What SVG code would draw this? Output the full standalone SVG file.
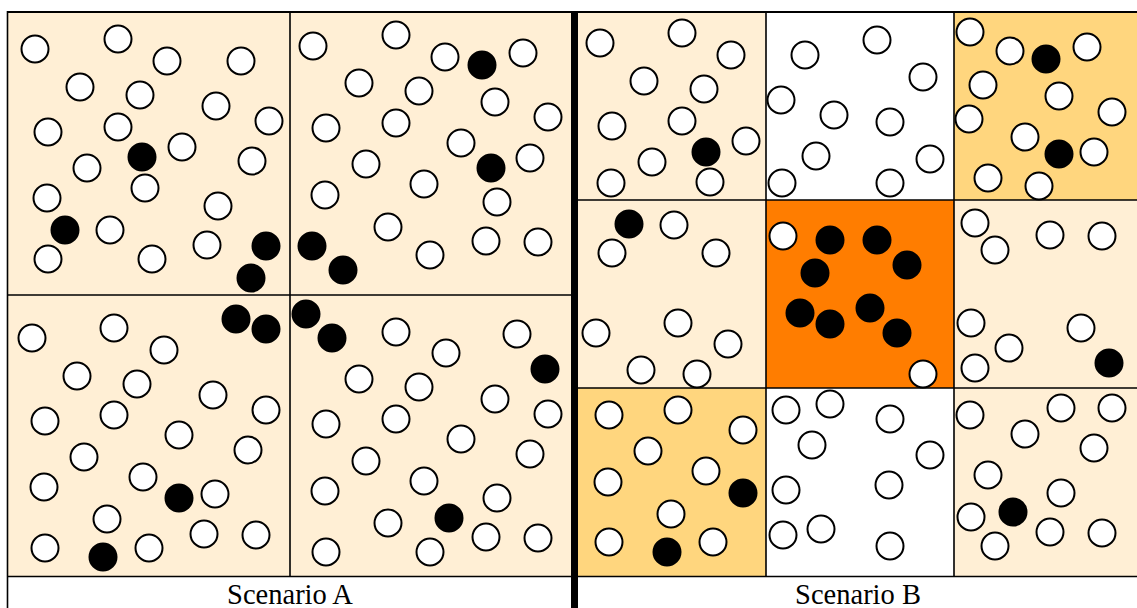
<svg xmlns="http://www.w3.org/2000/svg" width="1137" height="608" viewBox="0 0 1137 608">
<style>
.w{fill:#fff;stroke:#000;stroke-width:2}
.b{fill:#000;stroke:#000;stroke-width:2}
.c0{fill:#FFEFD5}
.c1{fill:#FFD67E}
.c2{fill:#FF7D00}
.c3{fill:#fff}
.ln{stroke:#000;stroke-width:1.6;fill:none}
.lbl{font-family:"Liberation Serif","Times New Roman",serif;font-size:28.5px;fill:#000;text-anchor:middle}
</style>
<rect x="0" y="0" width="1137" height="608" fill="#fff"/>
<g id="scenario-a">
<rect class="c0" x="8" y="12" width="564" height="564"/>
<g id="a-q1">
<circle class="w" cx="35" cy="49" r="13.5"/><circle class="w" cx="118" cy="39" r="13.5"/><circle class="w" cx="167" cy="61" r="13.5"/><circle class="w" cx="241" cy="61" r="13.5"/><circle class="w" cx="80" cy="87" r="13.5"/><circle class="w" cx="140" cy="95" r="13.5"/><circle class="w" cx="216" cy="106" r="13.5"/><circle class="w" cx="269" cy="121" r="13.5"/><circle class="w" cx="48" cy="132" r="13.5"/><circle class="w" cx="118" cy="127" r="13.5"/><circle class="w" cx="182" cy="147" r="13.5"/><circle class="w" cx="252" cy="161" r="13.5"/><circle class="w" cx="87" cy="168" r="13.5"/><circle class="w" cx="145" cy="188" r="13.5"/><circle class="w" cx="47" cy="198" r="13.5"/><circle class="w" cx="218" cy="206" r="13.5"/><circle class="w" cx="110" cy="230" r="13.5"/><circle class="w" cx="207" cy="245" r="13.5"/><circle class="w" cx="48" cy="259" r="13.5"/><circle class="w" cx="152" cy="259" r="13.5"/>
<circle class="b" cx="142" cy="157" r="13.5"/><circle class="b" cx="65" cy="230" r="13.5"/><circle class="b" cx="266" cy="246" r="13.5"/><circle class="b" cx="251" cy="278" r="13.5"/>
</g>
<g id="a-q2">
<circle class="w" cx="313" cy="46" r="13.5"/><circle class="w" cx="396" cy="35" r="13.5"/><circle class="w" cx="445" cy="57" r="13.5"/><circle class="w" cx="523" cy="53" r="13.5"/><circle class="w" cx="359" cy="83" r="13.5"/><circle class="w" cx="419" cy="91" r="13.5"/><circle class="w" cx="495" cy="102" r="13.5"/><circle class="w" cx="548" cy="117" r="13.5"/><circle class="w" cx="326" cy="128" r="13.5"/><circle class="w" cx="396" cy="123" r="13.5"/><circle class="w" cx="461" cy="143" r="13.5"/><circle class="w" cx="530" cy="158" r="13.5"/><circle class="w" cx="366" cy="164" r="13.5"/><circle class="w" cx="424" cy="184" r="13.5"/><circle class="w" cx="325" cy="195" r="13.5"/><circle class="w" cx="497" cy="202" r="13.5"/><circle class="w" cx="388" cy="227" r="13.5"/><circle class="w" cx="486" cy="241" r="13.5"/><circle class="w" cx="538" cy="242" r="13.5"/><circle class="w" cx="430" cy="255" r="13.5"/>
<circle class="b" cx="482" cy="65" r="13.5"/><circle class="b" cx="491" cy="168" r="13.5"/><circle class="b" cx="312" cy="246" r="13.5"/><circle class="b" cx="343" cy="270" r="13.5"/>
</g>
<g id="a-q3">
<circle class="w" cx="32" cy="338" r="13.5"/><circle class="w" cx="114" cy="328" r="13.5"/><circle class="w" cx="164" cy="350" r="13.5"/><circle class="w" cx="77" cy="376" r="13.5"/><circle class="w" cx="137" cy="384" r="13.5"/><circle class="w" cx="213" cy="395" r="13.5"/><circle class="w" cx="266" cy="410" r="13.5"/><circle class="w" cx="45" cy="421" r="13.5"/><circle class="w" cx="114" cy="415" r="13.5"/><circle class="w" cx="179" cy="435" r="13.5"/><circle class="w" cx="248" cy="450" r="13.5"/><circle class="w" cx="84" cy="457" r="13.5"/><circle class="w" cx="143" cy="477" r="13.5"/><circle class="w" cx="44" cy="487" r="13.5"/><circle class="w" cx="215" cy="494" r="13.5"/><circle class="w" cx="107" cy="519" r="13.5"/><circle class="w" cx="204" cy="534" r="13.5"/><circle class="w" cx="256" cy="535" r="13.5"/><circle class="w" cx="45" cy="548" r="13.5"/><circle class="w" cx="149" cy="548" r="13.5"/>
<circle class="b" cx="236" cy="319" r="13.5"/><circle class="b" cx="266" cy="329" r="13.5"/><circle class="b" cx="179" cy="498" r="13.5"/><circle class="b" cx="103" cy="557" r="13.5"/>
</g>
<g id="a-q4">
<circle class="w" cx="396" cy="332" r="13.5"/><circle class="w" cx="517" cy="334" r="13.5"/><circle class="w" cx="446" cy="353" r="13.5"/><circle class="w" cx="359" cy="379" r="13.5"/><circle class="w" cx="419" cy="387" r="13.5"/><circle class="w" cx="495" cy="399" r="13.5"/><circle class="w" cx="548" cy="414" r="13.5"/><circle class="w" cx="326" cy="424" r="13.5"/><circle class="w" cx="396" cy="419" r="13.5"/><circle class="w" cx="461" cy="439" r="13.5"/><circle class="w" cx="530" cy="454" r="13.5"/><circle class="w" cx="366" cy="461" r="13.5"/><circle class="w" cx="424" cy="481" r="13.5"/><circle class="w" cx="325" cy="491" r="13.5"/><circle class="w" cx="497" cy="498" r="13.5"/><circle class="w" cx="388" cy="523" r="13.5"/><circle class="w" cx="486" cy="537" r="13.5"/><circle class="w" cx="538" cy="538" r="13.5"/><circle class="w" cx="326" cy="552" r="13.5"/><circle class="w" cx="430" cy="552" r="13.5"/>
<circle class="b" cx="306" cy="314" r="13.5"/><circle class="b" cx="332" cy="338" r="13.5"/><circle class="b" cx="545" cy="369" r="13.5"/><circle class="b" cx="449" cy="518" r="13.5"/>
</g>
<path class="ln" d="M290 12V576.5M8 295H572M8 576.5H572"/>
<text class="lbl" x="290" y="604">Scenario A</text>
</g>
<g id="scenario-b">
<rect class="c0" x="578" y="12" width="188" height="188"/>
<rect class="c3" x="766" y="12" width="188" height="188"/>
<rect class="c1" x="954" y="12" width="183" height="188"/>
<rect class="c0" x="578" y="200" width="188" height="188"/>
<rect class="c2" x="766" y="200" width="188" height="188"/>
<rect class="c0" x="954" y="200" width="183" height="188"/>
<rect class="c1" x="578" y="388" width="188" height="188.5"/>
<rect class="c3" x="766" y="388" width="188" height="188.5"/>
<rect class="c0" x="954" y="388" width="183" height="188.5"/>
<path class="ln" d="M766 12V576.5M954 12V576.5M578 200H1137M578 388H1137M578 576.5H1137"/>
<g id="b-c1">
<circle class="w" cx="600" cy="43" r="13.5"/><circle class="w" cx="682" cy="33" r="13.5"/><circle class="w" cx="731" cy="55" r="13.5"/><circle class="w" cx="644" cy="81" r="13.5"/><circle class="w" cx="704" cy="89" r="13.5"/><circle class="w" cx="612" cy="126" r="13.5"/><circle class="w" cx="682" cy="121" r="13.5"/><circle class="w" cx="746" cy="141" r="13.5"/><circle class="w" cx="652" cy="162" r="13.5"/><circle class="w" cx="611" cy="183" r="13.5"/><circle class="w" cx="710" cy="182" r="13.5"/>
<circle class="b" cx="706" cy="152" r="13.5"/>
</g>
<g id="b-c2">
<circle class="w" cx="805" cy="55" r="13.5"/><circle class="w" cx="877" cy="40" r="13.5"/><circle class="w" cx="923" cy="77" r="13.5"/><circle class="w" cx="781" cy="100" r="13.5"/><circle class="w" cx="834" cy="115" r="13.5"/><circle class="w" cx="890" cy="122" r="13.5"/><circle class="w" cx="816" cy="156" r="13.5"/><circle class="w" cx="930" cy="159" r="13.5"/><circle class="w" cx="782" cy="183" r="13.5"/><circle class="w" cx="890" cy="183" r="13.5"/>
</g>
<g id="b-c3">
<circle class="w" cx="970" cy="32" r="13.5"/><circle class="w" cx="1010" cy="51" r="13.5"/><circle class="w" cx="1087" cy="47" r="13.5"/><circle class="w" cx="983" cy="85" r="13.5"/><circle class="w" cx="1059" cy="96" r="13.5"/><circle class="w" cx="969" cy="119" r="13.5"/><circle class="w" cx="1112" cy="112" r="13.5"/><circle class="w" cx="1025" cy="137" r="13.5"/><circle class="w" cx="1094" cy="152" r="13.5"/><circle class="w" cx="988" cy="178" r="13.5"/><circle class="w" cx="1039" cy="186" r="13.5"/>
<circle class="b" cx="1046" cy="59" r="13.5"/><circle class="b" cx="1059" cy="154" r="13.5"/>
</g>
<g id="b-c4">
<circle class="w" cx="674" cy="225" r="13.5"/><circle class="w" cx="612" cy="253" r="13.5"/><circle class="w" cx="716" cy="253" r="13.5"/><circle class="w" cx="678" cy="323" r="13.5"/><circle class="w" cx="596" cy="333" r="13.5"/><circle class="w" cx="728" cy="344" r="13.5"/><circle class="w" cx="641" cy="370" r="13.5"/><circle class="w" cx="697" cy="374" r="13.5"/>
<circle class="b" cx="629" cy="224" r="13.5"/>
</g>
<g id="b-c5">
<circle class="w" cx="783" cy="236" r="13.5"/><circle class="w" cx="923" cy="374" r="13.5"/>
<circle class="b" cx="830" cy="240" r="13.5"/><circle class="b" cx="877" cy="240" r="13.5"/><circle class="b" cx="907" cy="265" r="13.5"/><circle class="b" cx="815" cy="273" r="13.5"/><circle class="b" cx="800" cy="313" r="13.5"/><circle class="b" cx="830" cy="324" r="13.5"/><circle class="b" cx="870" cy="308" r="13.5"/><circle class="b" cx="897" cy="333" r="13.5"/>
</g>
<g id="b-c6">
<circle class="w" cx="975" cy="223" r="13.5"/><circle class="w" cx="995" cy="250" r="13.5"/><circle class="w" cx="1050" cy="235" r="13.5"/><circle class="w" cx="1102" cy="236" r="13.5"/><circle class="w" cx="971" cy="323" r="13.5"/><circle class="w" cx="1009" cy="348" r="13.5"/><circle class="w" cx="1081" cy="328" r="13.5"/><circle class="w" cx="975" cy="368" r="13.5"/>
<circle class="b" cx="1109" cy="363" r="13.5"/>
</g>
<g id="b-c7">
<circle class="w" cx="609" cy="415" r="13.5"/><circle class="w" cx="678" cy="410" r="13.5"/><circle class="w" cx="743" cy="430" r="13.5"/><circle class="w" cx="648" cy="451" r="13.5"/><circle class="w" cx="608" cy="482" r="13.5"/><circle class="w" cx="706" cy="471" r="13.5"/><circle class="w" cx="671" cy="514" r="13.5"/><circle class="w" cx="609" cy="542" r="13.5"/><circle class="w" cx="713" cy="542" r="13.5"/>
<circle class="b" cx="743" cy="493" r="13.5"/><circle class="b" cx="667" cy="552" r="13.5"/>
</g>
<g id="b-c8">
<circle class="w" cx="786" cy="410" r="13.5"/><circle class="w" cx="830" cy="404" r="13.5"/><circle class="w" cx="890" cy="419" r="13.5"/><circle class="w" cx="812" cy="445" r="13.5"/><circle class="w" cx="930" cy="455" r="13.5"/><circle class="w" cx="786" cy="490" r="13.5"/><circle class="w" cx="889" cy="485" r="13.5"/><circle class="w" cx="783" cy="535" r="13.5"/><circle class="w" cx="821" cy="529" r="13.5"/><circle class="w" cx="890" cy="546" r="13.5"/>
</g>
<g id="b-c9">
<circle class="w" cx="970" cy="415" r="13.5"/><circle class="w" cx="1061" cy="408" r="13.5"/><circle class="w" cx="1112" cy="408" r="13.5"/><circle class="w" cx="1025" cy="434" r="13.5"/><circle class="w" cx="1094" cy="448" r="13.5"/><circle class="w" cx="988" cy="475" r="13.5"/><circle class="w" cx="1061" cy="493" r="13.5"/><circle class="w" cx="971" cy="517" r="13.5"/><circle class="w" cx="995" cy="546" r="13.5"/><circle class="w" cx="1050" cy="532" r="13.5"/><circle class="w" cx="1102" cy="533" r="13.5"/>
<circle class="b" cx="1013" cy="512" r="13.5"/>
</g>
<text class="lbl" x="858" y="604">Scenario B</text>
</g>
<g id="frame">
<path class="ln" d="M7.5 11V608"/>
<path d="M7 12H1137" stroke="#000" stroke-width="2.2" fill="none"/>
<rect x="571" y="11" width="7" height="597" fill="#000"/>
</g>
</svg>
